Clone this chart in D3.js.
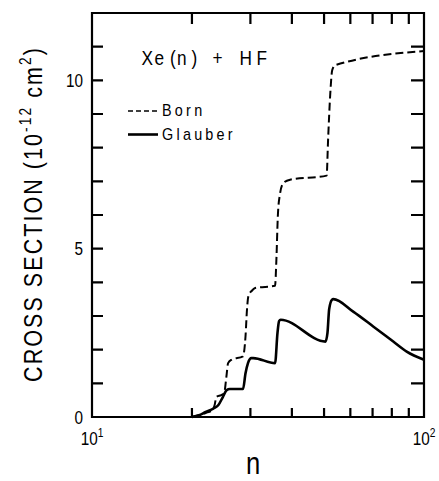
<!DOCTYPE html>
<html>
<head>
<meta charset="utf-8">
<script src="https://cdn.jsdelivr.net/npm/d3@7"></script>
<style>
  html, body { margin: 0; padding: 0; background: #fff; }
  svg { display: block; }
  text { font-family: "Liberation Sans", Arial, sans-serif; fill: #000; }
</style>
</head>
<body>
<svg id="chart" width="439" height="481"></svg>
<script>
// Cross section vs principal quantum number n, Xe(n) + HF
const bornN   = [20, 21, 22, 23, 23.4, 23.7, 24.5, 25, 25.4, 25.7, 26.3, 28.5, 29.0, 29.3, 29.6, 30.3, 31, 35.6, 35.9, 36.3, 36.8, 37.7, 39.5, 50.9, 51.4, 52.2, 52.9, 54, 100];
const bornCS  = [0, 0.05, 0.12, 0.2, 0.35, 0.6, 0.65, 0.7, 1.2, 1.6, 1.7, 1.8, 2.4, 3.2, 3.6, 3.75, 3.83, 3.9, 4.6, 6.0, 6.6, 6.95, 7.05, 7.17, 8.2, 9.6, 10.3, 10.45, 10.87];

const glauberN  = [20, 21, 22, 23.2, 24, 24.8, 25.45, 26, 28.5, 29.0, 29.5, 30.2, 30.6, 35.6, 36.2, 36.6, 37, 50.5, 51.2, 51.8, 52.8, 53.3, 61.2, 70.3, 80.8, 88.7, 100];
const glauberCS = [0, 0.05, 0.15, 0.25, 0.35, 0.6, 0.8, 0.83, 0.83, 1.3, 1.6, 1.75, 1.75, 1.6, 2.5, 2.85, 2.89, 2.24, 2.5, 3.2, 3.48, 3.5, 3.13, 2.69, 2.24, 1.94, 1.70];

const xTicks = [20, 30, 40, 50, 60, 70, 80, 90];
const yTicks = [1, 2, 3, 4, 5, 6, 7, 8, 9, 10, 11];
const yLabels = [0, 5, 10];
const xLabels = [[10, "1"], [100, "2"]];

const svg = d3.select("#chart");
const L = 92, R = 424, T = 13, B = 417;

const x = d3.scaleLog().domain([10, 100]).range([L, R]);
const y = d3.scaleLinear().domain([0, 12]).range([B, T]);

// horizontally condensed text, anchored at (px, py)
function ctext(parent, px, py, size, sx, anchor) {
  return parent.append("text")
    .attr("transform", `translate(${px},${py}) scale(${sx},1)`)
    .attr("font-size", size)
    .attr("text-anchor", anchor || "start");
}

// frame and inward tick marks, one stroked path
const frame = d3.path();
frame.rect(L, T, R - L, B - T);
xTicks.forEach(v => {
  frame.moveTo(x(v), B); frame.lineTo(x(v), B - 9);
  frame.moveTo(x(v), T); frame.lineTo(x(v), T + 11);
});
yTicks.forEach(v => {
  frame.moveTo(L, y(v)); frame.lineTo(L + 11, y(v));
  frame.moveTo(R, y(v)); frame.lineTo(R - 13, y(v));
});
svg.append("path")
  .attr("d", frame.toString())
  .attr("fill", "none")
  .attr("stroke", "#000")
  .attr("stroke-width", 2.2);

// y tick labels
yLabels.forEach(v => {
  ctext(svg, L - 9, y(v) + 6.5, 18, 0.85, "end").text(v);
});

// x tick labels with superscript exponents
xLabels.forEach(([v, e]) => {
  const t = ctext(svg, x(v), 445, 18, 0.85, "middle");
  t.append("tspan").text("10");
  t.append("tspan").attr("dy", -8).attr("font-size", 12).text(e);
});

// axis titles
ctext(svg, 253, 474, 32, 0.8, "middle").text("n");

const yt = svg.append("text")
  .attr("transform", "translate(42,214) rotate(-90) scale(0.86,1)")
  .attr("text-anchor", "middle").attr("font-size", 25)
  .attr("letter-spacing", 2.4);
yt.append("tspan").text("CROSS SECTION (10");
yt.append("tspan").attr("dy", -11).attr("font-size", 16).text("-12");
yt.append("tspan").attr("dy", 11).text(" cm");
yt.append("tspan").attr("dy", -11).attr("font-size", 16).text("2");
yt.append("tspan").attr("dy", 11).text(")");

// curves
const line = d3.line().x(d => x(d[0])).y(d => y(d[1])).curve(d3.curveMonotoneX);
const bornPts = bornN.map((n, i) => [n, bornCS[i]]);
const glauberPts = glauberN.map((n, i) => [n, glauberCS[i]]);

svg.append("path").datum(bornPts).attr("d", line)
  .attr("fill", "none").attr("stroke", "#000").attr("stroke-width", 2)
  .attr("stroke-dasharray", "8,4");
svg.append("path").datum(glauberPts).attr("d", line)
  .attr("fill", "none").attr("stroke", "#000").attr("stroke-width", 2.6);

// reaction label, characters placed individually
const sx = 0.82, x0 = 141.5;
const title = ctext(svg, x0, 65, 21, sx, "start");
[["X", 141.5], ["e", 154.5], ["(", 170], ["n", 177], [")", 191.5], ["+", 212.5], ["H", 239.5], ["F", 256.5]]
  .forEach(([ch, px]) => title.append("tspan").attr("x", (px - x0) / sx).text(ch));

// legend
svg.append("line").attr("x1", 128).attr("x2", 158).attr("y1", 111).attr("y2", 111)
  .attr("stroke", "#000").attr("stroke-width", 1.6).attr("stroke-dasharray", "5,3");
ctext(svg, 162, 115.5, 16, 0.9, "start").attr("letter-spacing", 3.6).text("Born");
svg.append("line").attr("x1", 128).attr("x2", 158).attr("y1", 134.5).attr("y2", 134.5)
  .attr("stroke", "#000").attr("stroke-width", 2.6);
ctext(svg, 162, 140, 16, 0.9, "start").attr("letter-spacing", 3.6).text("Glauber");
</script>
</body>
</html>
